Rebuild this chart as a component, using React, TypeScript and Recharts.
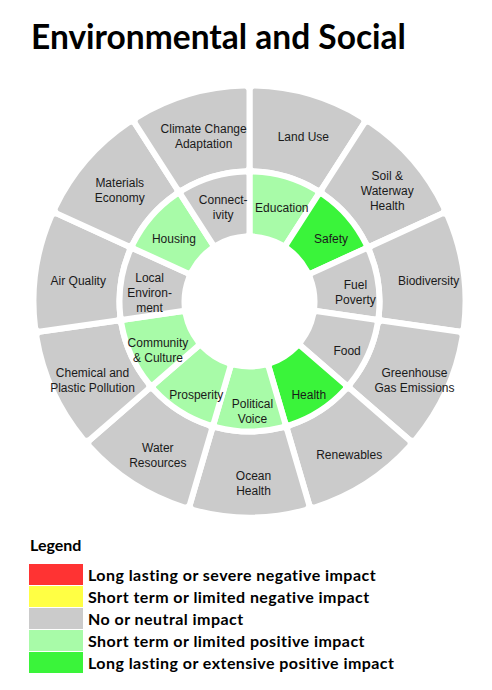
import React from 'react';
import { PieChart, Pie, Cell } from 'recharts';

// outer ring, clockwise from 12 o'clock
const outerTopics = [
  'Land Use',
  'Soil &\nWaterway\nHealth',
  'Biodiversity',
  'Greenhouse\nGas Emissions',
  'Renewables',
  'Ocean\nHealth',
  'Water\nResources',
  'Chemical and\nPlastic Pollution',
  'Air Quality',
  'Materials\nEconomy',
  'Climate Change\nAdaptation',
];
const outerImpact = [0, 0, 0, 0, 0, 0, 0, 0, 0, 0, 0];

// inner ring, clockwise from 12 o'clock
const innerTopics = [
  'Education',
  'Safety',
  'Fuel\nPoverty',
  'Food',
  'Health',
  'Political\nVoice',
  'Prosperity',
  'Community\n& Culture',
  'Local\nEnviron-\nment',
  'Housing',
  'Connect-\nivity',
];
const innerImpact = [1, 2, 0, 0, 2, 1, 1, 1, 0, 1, 0];

// impact scale: -2 .. 2
const legendLevels = [-2, -1, 0, 1, 2];
const legendLabels = [
  'Long lasting or severe negative impact',
  'Short term or limited negative impact',
  'No or neutral impact',
  'Short term or limited positive impact',
  'Long lasting or extensive positive impact',
];

const impactColor: Record<number, string> = {
  [-2]: '#ff3333',
  [-1]: '#ffff44',
  0: '#cbcbcb',
  1: '#a8fba8',
  2: '#3af43a',
};

const RADIAN = Math.PI / 180;

const makeLabel = (radius: number, ox: number, oy: number) => (props: any) => {
  const { cx, cy, midAngle, name } = props;
  const x = cx + radius * Math.cos(-midAngle * RADIAN) + ox;
  const y = cy + radius * Math.sin(-midAngle * RADIAN) + oy;
  const lines = String(name).split('\n');
  return (
    <text
      x={x}
      y={y}
      textAnchor="middle"
      dominantBaseline="central"
      fontFamily="'Liberation Sans', Arial, sans-serif"
      fontSize={12}
      fill="#1a1a1a"
    >
      {lines.map((l, i) => (
        <tspan key={i} x={x} dy={i === 0 ? -((lines.length - 1) * 15) / 2 : 15}>
          {l}
        </tspan>
      ))}
    </text>
  );
};

const App: React.FC = () => {
  const outerData = outerTopics.map((name, i) => ({ name, value: 1, impact: outerImpact[i] }));
  const innerData = innerTopics.map((name, i) => ({ name, value: 1, impact: innerImpact[i] }));

  return (
    <div style={{ position: 'relative', width: 476, height: 674, fontFamily: 'Lato, sans-serif' }}>
      <div
        style={{
          position: 'absolute',
          left: 23,
          top: 8,
          fontSize: 33.5,
          fontWeight: 700,
          lineHeight: '40px',
          color: '#000',
          whiteSpace: 'nowrap',
        }}
      >
        Environmental and Social
      </div>

      <div style={{ position: 'absolute', left: 0, top: 60 }}>
        <PieChart width={476} height={470} margin={{ top: 0, right: 0, bottom: 0, left: 0 }}>
          <Pie
            data={outerData}
            dataKey="value"
            cx={241.5}
            cy={233.5}
            innerRadius={130}
            outerRadius={216}
            startAngle={90}
            endAngle={-270}
            stroke="#fff"
            strokeWidth={6}
            cornerRadius={5}
            isAnimationActive={false}
            labelLine={false}
            label={makeLabel(177, 4, 5)}
          >
            {outerData.map((d, i) => (
              <Cell key={`o-${i}`} fill={impactColor[d.impact]} />
            ))}
          </Pie>
          <Pie
            data={innerData}
            dataKey="value"
            cx={241.5}
            cy={233.5}
            innerRadius={65}
            outerRadius={130}
            startAngle={90}
            endAngle={-270}
            stroke="#fff"
            strokeWidth={6}
            cornerRadius={4}
            isAnimationActive={false}
            labelLine={false}
            label={makeLabel(104, 3, 6)}
          >
            {innerData.map((d, i) => (
              <Cell key={`i-${i}`} fill={impactColor[d.impact]} />
            ))}
          </Pie>
        </PieChart>
      </div>

      <div
        style={{
          position: 'absolute',
          left: 22,
          top: 527,
          fontSize: 16,
          fontWeight: 700,
          color: '#000',
        }}
      >
        Legend
      </div>
      <div style={{ position: 'absolute', left: 21, top: 555 }}>
        {legendLevels.map((lvl, i) => (
          <div key={lvl} style={{ display: 'flex', alignItems: 'center', height: 22 }}>
            <div style={{ width: 54, height: 21, backgroundColor: impactColor[lvl] }} />
            <span
              style={{
                marginLeft: 5,
                fontSize: 16,
                fontWeight: 700,
                letterSpacing: 0.45,
                color: '#000',
                whiteSpace: 'nowrap',
              }}
            >
              {legendLabels[i]}
            </span>
          </div>
        ))}
      </div>
    </div>
  );
};

export default App;
